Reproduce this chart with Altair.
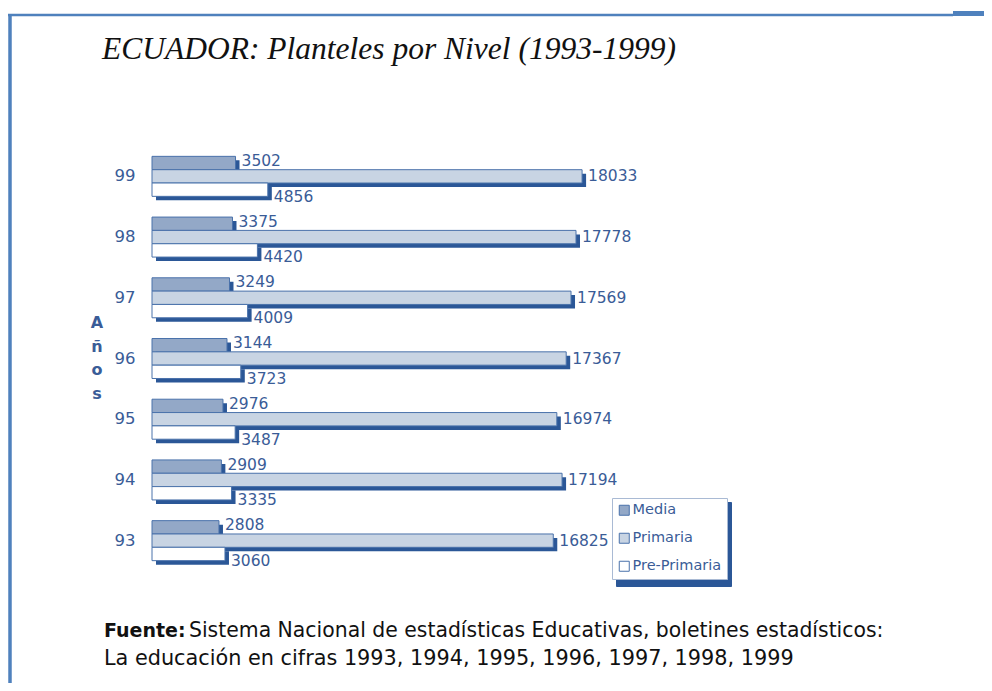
import altair as alt
import pandas as pd

# ---- data ----
anios = ["99", "98", "97", "96", "95", "94", "93"]
niveles = ["Media", "Primaria", "Pre-Primaria"]
media = [3502, 3375, 3249, 3144, 2976, 2909, 2808]
primaria = [18033, 17778, 17569, 17367, 16974, 17194, 16825]
preprimaria = [4856, 4420, 4009, 3723, 3487, 3335, 3060]
colores = ["#93a8c7", "#c8d4e3", "#ffffff"]

titulo = "ECUADOR: Planteles por Nivel (1993-1999)"
fuente_b = "Fuente:"
fuente_1 = "Sistema Nacional de estadísticas Educativas, boletines estadísticos:"
fuente_2 = "La educación en cifras 1993, 1994, 1995, 1996, 1997, 1998, 1999"

niveles_s = ["s:" + n for n in niveles]  # keys for the legend shadow

rows = []
for i, a in enumerate(anios):
    for n, vals in zip(niveles, [media, primaria, preprimaria]):
        rows.append({"anio": a, "nivel": n, "nivel_s": "s:" + n, "valor": vals[i]})
df = pd.DataFrame(rows)
one = pd.DataFrame({"k": [0]})

FRAME = "#4f81bd"
SH = "#2b5797"
TXT = "#3a5c97"
STROKE = "#4a72ab"

X = alt.X("valor:Q", scale=alt.Scale(domain=[0, 20000]), axis=None)
Y = alt.Y(
    "anio:N",
    sort=anios,
    scale=alt.Scale(paddingInner=0.3412, paddingOuter=0.1706),
    axis=alt.Axis(
        title=["A", "ñ", "o", "s"],
        titleAngle=0,
        titleAlign="center",
        titleBaseline="middle",
        titleX=-55.5,
        titleY=176.5,
        titleFont="DejaVu Sans",
        titleFontSize=16,
        titleFontWeight="bold",
        titleColor=TXT,
        titleLineHeight=23.5,
        labelFont="DejaVu Sans",
        labelFontSize=16.5,
        labelColor=TXT,
        labelPadding=17,
        ticks=False,
        domain=False,
        grid=False,
    ),
)


def yoff(rng=None):
    kw = dict(type="band", domain=niveles, paddingInner=0, paddingOuter=0)
    if rng is not None:
        kw["range"] = rng
    return alt.YOffset("nivel:N", sort=niveles, scale=alt.Scale(**kw))


legend_common = dict(
    orient="none",
    title=None,
    direction="vertical",
    symbolType="square",
    symbolSize=100,
    labelFont="DejaVu Sans",
    labelFontSize=14.5,
    labelOffset=1,
    rowPadding=12,
    padding=5,
)

# shadows (offset copies of the bars)
shadow = alt.Chart(df).mark_bar(color=SH, xOffset=4, x2Offset=4).encode(
    x=X,
    y=Y,
    yOffset=yoff([4, 44]),
    opacity=alt.Opacity(
        "nivel_s:N",
        sort=niveles_s,
        scale=alt.Scale(domain=niveles_s, range=[1, 1, 1]),
        legend=alt.Legend(
            legendX=464, legendY=356,
            labelExpr="slice(datum.label, 2)",
            symbolFillColor=SH, symbolStrokeColor=SH, labelColor=SH,
            fillColor=SH, strokeColor=SH, zindex=0,
            **legend_common,
        ),
    ),
)

bars = alt.Chart(df).mark_bar(stroke=STROKE, strokeWidth=1).encode(
    x=X,
    y=Y,
    yOffset=yoff(),
    fill=alt.Fill(
        "nivel:N",
        sort=niveles,
        scale=alt.Scale(domain=niveles, range=colores),
        legend=alt.Legend(
            legendX=460, legendY=352,
            symbolStrokeColor=STROKE, symbolStrokeWidth=1, labelColor=TXT,
            fillColor="white", strokeColor="#a9bad4", zindex=1,
            **legend_common,
        ),
    ),
)

label_layers = []
for n, d in zip(niveles, [-2, 0, 7]):
    label_layers.append(
        alt.Chart(df)
        .transform_filter(alt.datum.nivel == n)
        .mark_text(align="left", baseline="middle", dx=6, dy=d,
                   font="DejaVu Sans", fontSize=15.5, color=TXT)
        .encode(x=X, y=Y, yOffset=yoff(), text=alt.Text("valor:Q", format="d"))
    )

# frame decorations (page layout, not data)
left_line = alt.Chart(one).mark_rule(color=FRAME, strokeWidth=3.5).encode(
    x=alt.value(-142), y=alt.value(-132), y2=alt.value(545))
top_line = alt.Chart(one).mark_rule(color=FRAME, strokeWidth=2.5).encode(
    x=alt.value(-144), x2=alt.value(801), y=alt.value(-131))
top_right = alt.Chart(one).mark_rule(color=FRAME, strokeWidth=5).encode(
    x=alt.value(801), x2=alt.value(840), y=alt.value(-132.5))

title_t = alt.Chart(one).mark_text(
    text=titulo, align="left", baseline="alphabetic", font="Liberation Serif",
    fontStyle="italic", fontSize=31.5, color="#111111"
).encode(x=alt.value(-50), y=alt.value(-87.5))

foot_b = alt.Chart(one).mark_text(
    text=fuente_b, align="left", baseline="alphabetic", font="DejaVu Sans",
    fontWeight="bold", fontSize=19, color="#111111"
).encode(x=alt.value(-48), y=alt.value(491))
foot_1 = alt.Chart(one).mark_text(
    text=fuente_1, align="left", baseline="alphabetic", font="DejaVu Sans",
    fontSize=20.4, color="#111111"
).encode(x=alt.value(37), y=alt.value(491))
foot_2 = alt.Chart(one).mark_text(
    text=fuente_2, align="left", baseline="alphabetic", font="DejaVu Sans",
    fontSize=20.8, color="#111111"
).encode(x=alt.value(-48), y=alt.value(519))

chart = (
    alt.layer(
        left_line, top_line, top_right, title_t, foot_b, foot_1, foot_2,
        *label_layers, shadow, bars,
    )
    .resolve_scale(yOffset="independent")
    .properties(
        width=477,
        height=425,
        padding={"left": 144, "top": 138, "right": 355, "bottom": 112},
        autosize=alt.AutoSizeParams(type="none"),
        background="white",
    )
    .configure_view(stroke=None)
)

chart.save("out.html", embed_options={"renderer": "svg", "actions": False})
